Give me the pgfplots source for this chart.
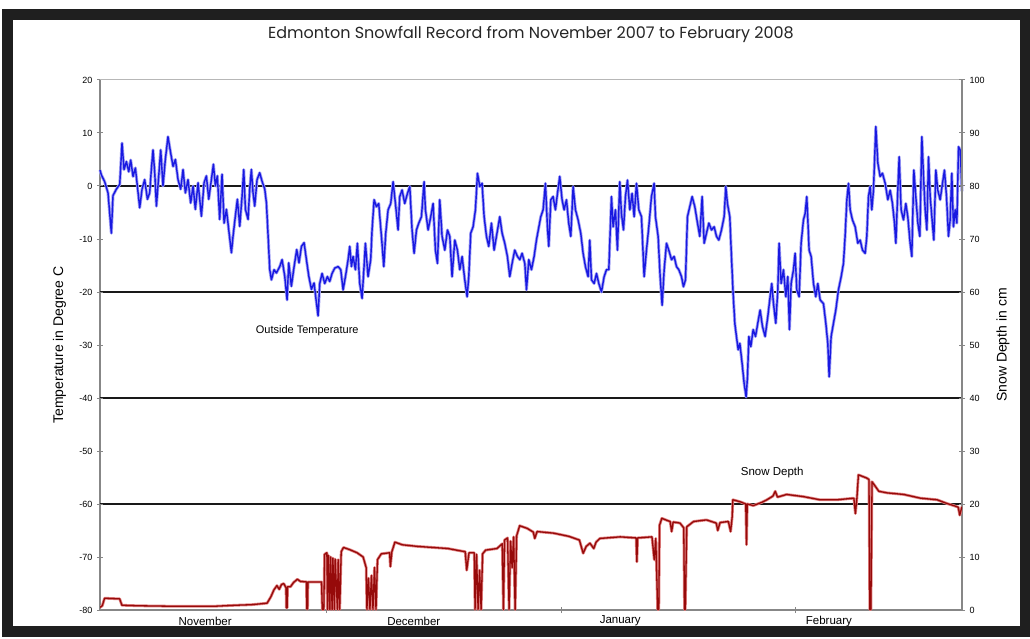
\documentclass[border=0pt]{standalone}
\usepackage{pgfplots}
\pgfplotsset{compat=1.18}
\usepackage{fontspec}
\setmainfont{Liberation Sans}
\newfontfamily\titlefont{Poppins}
\definecolor{tblue}{RGB}{25,25,225}
\definecolor{thalo}{RGB}{160,160,245}
\definecolor{sred}{RGB}{150,10,10}
\definecolor{shalo}{RGB}{225,130,130}
\definecolor{axgray}{RGB}{135,135,135}

\pgfplotstableread{
d T
0 3.0
0.18 2.1
0.62 0.8
1.06 -1.3
1.50 -8.9
1.72 -1.8
2.16 -0.6
2.61 0.3
2.91 8.1
3.18 3.1
3.49 4.6
3.80 2.7
4.06 4.9
4.37 1.8
4.68 3.4
4.94 0
5.25 -4.1
5.56 -0.6
5.91 1.2
6.27 -2.5
6.57 -1.3
6.79 3.1
7.01 6.8
7.24 2.5
7.46 -3.8
7.76 1.8
8.03 6.8
8.33 0
8.64 5.0
8.99 9.3
9.35 6.2
9.66 3.7
9.97 5.0
10.32 1.2
10.67 -0.6
10.98 3.1
11.29 -1.3
11.64 1.2
11.99 -3.2
12.31 0
12.61 -4.4
12.97 0.6
13.41 -5.7
13.76 0.6
14.07 1.9
14.38 -2.5
14.73 1.2
15.0 4.1
15.26 0
15.52 1.9
15.83 -6.3
16.14 2.2
16.41 -7.0
16.72 -4.4
17.02 -8.2
17.38 -12.6
17.6 -9.4
17.9 -5.7
18.17 -2.5
18.48 -7.6
18.79 -1.9
19.01 3.1
19.23 -4.4
19.58 -6.3
19.8 -0.6
20.02 3.1
20.24 -1.3
20.46 -3.8
20.77 1.2
21.12 2.5
21.43 0.9
21.79 -0.6
22.01 -3.2
22.23 -9.4
22.45 -15.8
22.67 -17.7
23.02 -15.8
23.33 -16.4
23.77 -15.2
24.08 -13.9
24.43 -17
24.74 -21.5
24.96 -14.5
25.31 -18.9
25.67 -15.2
26.02 -12
26.32 -14.5
26.64 -11.4
26.99 -10.7
27.3 -13.9
27.61 -17
27.96 -19.5
28.31 -18.3
28.62 -22
28.84 -24.5
29.06 -18.4
29.37 -16.5
29.72 -18.4
30.07 -17.1
30.38 -18
30.69 -16.5
31.04 -15.5
31.49 -15.2
31.84 -15.8
32.15 -19.6
32.46 -17.1
32.81 -13.9
33.03 -11.4
33.25 -15.2
33.47 -13.3
33.78 -15.8
34.04 -10.8
34.35 -18.4
34.66 -21.2
34.92 -15.2
35.1 -10.8
35.45 -17.1
35.8 -13.9
35.98 -8.3
36.25 -2.6
36.56 -3.9
36.86 -3.3
37.22 -9.5
37.53 -15.2
37.79 -8.9
38.1 -4.5
38.45 -3.3
38.76 0.8
39.07 -3.3
39.42 -8.3
39.64 -2
39.95 -0.75
40.3 -3.3
40.66 -1.4
40.97 -0.1
41.27 -8.3
41.54 -12.7
41.85 -8.3
42.16 -7
42.51 -5.8
42.86 0.8
43.04 -4.5
43.39 -8.3
43.74 -5.8
44.05 -3.3
44.36 -12.1
44.63 -14.6
44.93 -2.6
45.24 -9.5
45.6 -12.1
45.95 -8.3
46.26 -9.5
46.56 -17.1
46.92 -10.2
47.27 -12.1
47.58 -15.8
47.89 -13.3
48.24 -17.7
48.55 -20.9
48.77 -17.1
49.03 -8.9
49.34 -7.7
49.65 -4.5
49.92 2.4
50.22 -0.1
50.53 0.5
50.8 -5.8
51.11 -9.5
51.41 -11.4
51.77 -7
52.12 -12.1
52.43 -9.5
52.87 -5.8
53.18 -8.9
53.53 -10.8
53.88 -13.3
54.19 -17.1
54.5 -14.6
54.85 -12.1
55.21 -13.3
55.52 -13.9
55.82 -12.7
56.18 -14.6
56.4 -19.6
56.71 -13.9
57.06 -15.8
57.41 -13.3
57.72 -10.2
58.29 -5.8
58.6 -4.5
58.91 0.5
59.17 -7.7
59.35 -11.4
59.62 -2.6
59.92 -2
60.23 -4.5
60.5 -1.4
60.8 1.8
61.11 -2.6
61.38 -4.5
61.69 -2.6
61.99 -7
62.26 -9.5
62.57 -0.1
62.88 -4.5
63.23 -6.4
63.58 -8.9
63.89 -12.7
64.2 -15.2
64.55 -17.1
64.77 -10.2
65 -17.7
65.35 -18.4
65.66 -16.5
65.97 -18.4
66.32 -20
66.67 -17.1
66.98 -15.8
67.29 -15.8
67.64 -2
67.86 -7.7
68.17 -4.5
68.43 -12.1
68.74 0.8
68.96 -5.2
69.23 -8.3
69.49 -2
69.76 1.1
70.07 -4.5
70.37 -1.4
70.64 -5.8
70.95 0.5
71.26 -4.5
71.61 -5.8
71.96 -17.1
72.27 -12.1
72.58 -7.7
72.93 -2
73.28 0.5
73.46 -5.8
73.81 -9.5
74.08 -17.1
74.34 -22.5
74.61 -15.8
74.92 -10.8
75.22 -12.1
75.58 -13.9
75.93 -13.3
76.24 -15.2
76.55 -15.8
76.9 -17.1
77.16 -19
77.43 -17.7
77.69 -5.8
78 -3.9
78.31 -2
78.66 -3.9
79.02 -7
79.32 -9.5
79.63 -2
79.9 -10.8
80.21 -8.9
80.52 -7
80.87 -8.3
81.22 -7.7
81.53 -9.5
81.84 -10.2
82.19 -8.3
82.54 -5.8
82.76 -0.1
82.98 -3.3
83.29 -5.8
83.51 -13.3
83.73 -20.3
83.96 -26
84.17 -28.4
84.4 -30.9
84.62 -29.7
84.92 -33.5
85.19 -37.3
85.45 -39.8
85.63 -36
85.81 -28.4
86.07 -30.3
86.38 -27.1
86.69 -28.4
86.99 -25.9
87.3 -23.4
87.61 -26.5
87.96 -28.4
88.32 -24.6
88.62 -20.9
88.84 -18.4
89.07 -22.2
89.37 -25.9
89.64 -19.6
89.81 -10.8
90.08 -18.4
90.39 -15.8
90.7 -20.9
90.96 -17.1
91.18 -27.1
91.4 -18.4
91.71 -15.8
91.93 -12.7
92.15 -19.6
92.46 -20.9
92.72 -10.8
93.03 -6.4
93.25 -5.2
93.47 -2
93.61 -6.4
93.78 -12.1
94.05 -13.3
94.36 -18.4
94.66 -20.9
94.93 -18.4
95.24 -21.5
95.68 -22.2
95.99 -25.9
96.25 -29.7
96.43 -36
96.69 -28.4
97 -25.9
97.31 -23.4
97.66 -19.6
98.02 -17.1
98.32 -14.6
98.54 -9.5
98.77 -2.6
98.99 0.5
99.21 -4.5
99.51 -6.4
99.87 -7.7
100.22 -10.8
100.53 -10.2
100.84 -12.1
101.19 -12.7
101.41 -9.5
101.63 -2
101.85 -0.1
102.07 -4.5
102.29 -0.8
102.6 11.2
102.87 4.3
103.17 1.8
103.48 2.4
103.84 0.5
104.19 -2.6
104.5 -0.8
104.8 -3.3
105.07 -7
105.25 -10.8
105.51 -0.8
105.69 5.5
105.95 -4.5
106.26 -6.4
106.57 -3.3
106.83 -5.8
107.14 -10.8
107.36 -13.3
107.63 3
107.89 -2
108.16 -7
108.42 -9.5
108.69 9.3
108.91 1.8
109.13 -4.5
109.35 -8.3
109.57 5.5
109.79 -2
110.01 -5.8
110.27 -10.2
110.54 3
110.8 -0.8
111.11 -2.6
111.42 0.5
111.68 3
111.95 -2
112.21 -9.5
112.43 -6.4
112.65 2.4
112.87 -7.7
113.1 -4.5
113.32 -7
113.54 7.4
113.76 6.8
114 -1
}\temptable

\pgfplotstableread{
d D
0 0.5
0.3 0.8
0.6 2.2
1.0 2.2
2.6 2.1
2.9 0.9
5 0.8
10 0.7
15 0.7
18 0.9
20 1.0
21.5 1.2
22.1 1.3
22.6 2.5
23.0 3.8
23.4 4.6
23.7 3.9
24.0 4.8
24.3 5.0
24.6 4.2
24.65 0.4
24.75 0.4
24.8 4.4
25.2 4.4
25.6 5.2
26.1 5.8
26.5 5.4
27.3 5.3
27.35 0.2
27.45 0.2
27.5 5.3
29.3 5.3
29.4 0.1
29.6 0.1
29.7 10.5
30.0 10.8
30.1 0.1
30.2 10.3
30.4 0.1
30.5 10.0
30.7 0.1
30.8 9.8
31.0 0.1
31.1 9.6
31.4 0.1
31.5 9.5
31.7 0.1
31.9 11.0
32.2 11.8
33.0 11.4
34.0 10.8
34.8 10.0
35.2 8.0
35.3 0.1
35.5 6.0
35.7 0.1
35.9 6.5
36.1 0.1
36.3 8.0
36.5 0.1
36.7 9.5
37.2 10.6
38.3 10.8
38.4 8.2
38.6 11.0
39.0 12.8
40.0 12.3
42.0 12.0
44.0 11.8
46.0 11.6
47.5 11.2
48.3 11.0
48.5 7.5
48.8 10.8
49.5 10.8
49.6 0.1
49.8 10.5
50.0 0.1
50.2 7.5
50.4 0.1
50.6 10.6
51.0 11.3
52.5 11.6
53.2 12.5
53.35 0.1
53.5 13.2
53.9 13.6
54.1 0.1
54.3 13.0
54.5 8.0
54.7 13.8
54.9 0.1
55.1 14.0
55.5 15.9
56.5 15.4
57.3 14.7
57.5 13.5
57.8 14.8
60 14.5
62 13.9
63.4 13.2
63.9 10.7
64.3 12.0
64.8 12.6
65.3 11.6
65.6 12.8
66.1 13.5
68.8 13.8
70.9 13.6
71.0 9.1
71.1 13.6
73.0 13.8
73.3 9.5
73.5 13.5
73.75 0.1
73.9 0.1
74.0 16.0
74.3 17.3
75.0 16.9
75.4 16.7
75.6 14.8
75.8 16.6
76.7 16.4
77.2 15.5
77.3 0.1
77.4 0.1
77.6 15.7
78.5 16.7
80.2 17.0
81.5 16.4
81.7 15.0
82.0 16.5
83.1 16.7
83.4 14.8
83.6 17.5
83.7 20.8
84.7 20.4
85.4 20.0
85.5 12.3
85.6 20.0
86.4 19.7
87.5 20.3
88.2 20.8
89.0 21.5
89.3 22.4
89.6 21.3
90.8 21.8
93.0 21.4
95.2 20.8
97.5 20.8
99.7 21.1
99.9 18.2
100.1 21.1
100.3 25.5
101.4 24.9
101.7 24.6
101.8 0.1
101.95 0.1
102.1 24.2
103.0 22.4
104.1 22.1
106.3 21.8
108.5 21.1
110.7 20.8
112.0 20.1
112.9 19.7
113.5 19.4
113.7 17.9
114.0 19.5
}\snowtable

\begin{document}
\begin{tikzpicture}[x=1pt,y=1pt]
\useasboundingbox (0,0) rectangle (1030,638);
\fill[white] (0,0) rectangle (1030,638);
\draw[black!88, line width=11pt] (7,7) rectangle (1025,623);

\begin{axis}[
  at={(100pt,28pt)}, anchor=south west,
  scale only axis, width=862pt, height=530pt,
  xmin=0, xmax=114, ymin=-80, ymax=20,
  clip=false,
  axis y line*=left, axis x line*=bottom,
  axis line style={draw=axgray, line width=1.6pt},
  xtick={30,61,92}, xticklabels={},
  ytick={-80,-70,...,20},
  tick align=center, major tick length=6pt,
  tick style={draw=axgray, line width=1pt},
  yticklabel style={font=\fontsize{9}{10}\selectfont, xshift=-1pt},
  /pgf/number format/assume math mode=true,
  extra y ticks={-60,-40,-20,0}, extra y tick labels={},
  extra y tick style={grid=major, major grid style={draw=black!90, line width=1.4pt}},
  ylabel={Temperature in Degree C},
  ylabel style={font=\fontsize{14}{16}\selectfont, at={(axis description cs:-0.047,0.5)}, anchor=center},
  title={Edmonton Snowfall Record from November 2007 to February 2008},
  title style={font=\titlefont\fontsize{16}{18}\selectfont, text=black!85, at={(axis description cs:0.5,1.074)}, anchor=center},
]
\draw[axgray!60, line width=1pt] (axis cs:0,20) -- (axis cs:114,20);
\addplot[thalo, line width=3pt, line join=round] table[x=d, y=T] {\temptable};
\addplot[tblue, line width=1.4pt, line join=round] table[x=d, y=T] {\temptable};
\node[font=\fontsize{11}{13}\selectfont] at (axis cs:27.4,-27.2) {Outside Temperature};
\node[font=\fontsize{11.5}{13}\selectfont] at (axis cs:88.9,-54) {Snow Depth};
\node[font=\fontsize{11.5}{13}\selectfont] at (axis cs:13.9,-82.1) {November};
\node[font=\fontsize{11.5}{13}\selectfont] at (axis cs:41.5,-82.1) {December};
\node[font=\fontsize{11.5}{13}\selectfont] at (axis cs:68.8,-82.1) {January};
\node[font=\fontsize{11.5}{13}\selectfont] at (axis cs:96.4,-82.1) {February};
\end{axis}

\begin{axis}[
  at={(100pt,28pt)}, anchor=south west,
  scale only axis, width=862pt, height=530pt,
  xmin=0, xmax=114, ymin=0, ymax=100,
  axis y line*=right, axis x line=none,
  axis line style={draw=axgray, line width=1.6pt},
  ytick={0,10,...,100},
  tick align=center, major tick length=6pt,
  tick style={draw=axgray, line width=1pt},
  yticklabel style={font=\fontsize{9}{10}\selectfont, xshift=1pt},
  /pgf/number format/assume math mode=true,
  ylabel={Snow Depth in cm},
  ylabel style={font=\fontsize{14}{16}\selectfont, at={(axis description cs:1.0476,0.5)}, anchor=center},
]
\addplot[shalo, line width=2.8pt, line join=round] table[x=d, y=D] {\snowtable};
\addplot[sred, line width=1.3pt, line join=round] table[x=d, y=D] {\snowtable};
\end{axis}
\end{tikzpicture}
\end{document}
